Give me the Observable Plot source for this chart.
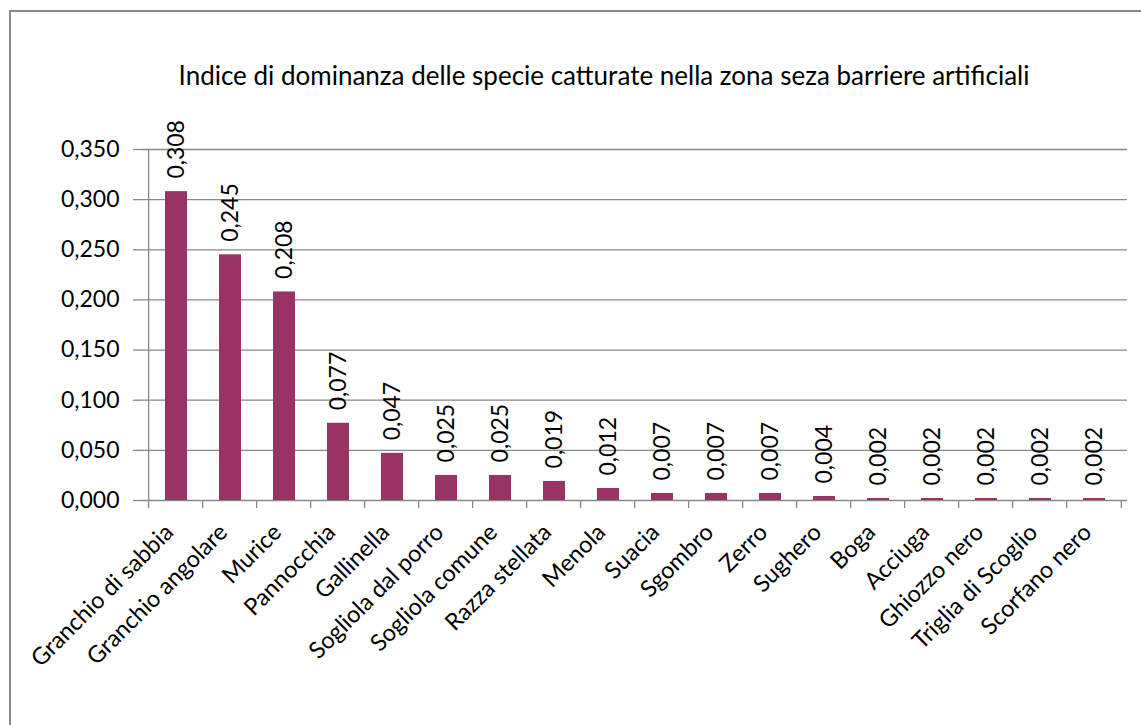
<!DOCTYPE html>
<html><head><meta charset="utf-8">
<script src="https://cdn.jsdelivr.net/npm/d3@7"></script>
<script src="https://cdn.jsdelivr.net/npm/@observablehq/plot@0.6"></script>
<style>
html,body{margin:0;padding:0;background:#fff;overflow:hidden;}
body{width:1141px;height:725px;position:relative;font-family:Lato, sans-serif;}
#frame{position:absolute;left:9px;top:10px;width:1300px;height:900px;border:2px solid #8a8a8a;box-sizing:border-box;}
#title{position:absolute;left:0;width:1208px;top:60px;text-align:center;font-size:26px;color:#000;line-height:30px;}
#chart{position:absolute;left:0;top:100px;}
</style></head><body>
<div id="frame"></div>
<div id="title">Indice di dominanza delle specie catturate nella zona seza barriere artificiali</div>
<div id="chart"></div>
<script>
const species = ["Granchio di sabbia","Granchio angolare","Murice","Pannocchia","Gallinella","Sogliola dal porro","Sogliola comune","Razza stellata","Menola","Suacia","Sgombro","Zerro","Sughero","Boga","Acciuga","Ghiozzo nero","Triglia di Scoglio","Scorfano nero"];
const values = [0.308,0.245,0.208,0.077,0.047,0.025,0.025,0.019,0.012,0.007,0.007,0.007,0.004,0.002,0.002,0.002,0.002,0.002];
const yTicks = [0,0.05,0.1,0.15,0.2,0.25,0.3,0.35];

const data = species.map((s,i)=>({species:s, value:values[i]}));
const fmt = v => d3.format(".3f")(v).replace(".", ",");
const gray = "#878787";
const barColor = "#993366";

const plot = Plot.plot({
  width:1141, height:625,
  marginLeft:142, marginRight:14, marginTop:49, marginBottom:225,
  style:{fontFamily:"Lato, sans-serif", fontSize:"23px", color:"#000", background:"transparent", overflow:"visible"},
  x:{domain:species, paddingInner:0.6, paddingOuter:0.3, label:null},
  y:{domain:[0,0.35], label:null},
  marks:[
    Plot.gridY(yTicks,{stroke:gray, strokeOpacity:1, strokeWidth:1.3}),
    Plot.axisY(yTicks,{tickFormat:fmt, tickSize:9, tickPadding:14, stroke:gray, strokeWidth:1.3, fill:"#000", fontSize:23, label:null}),
    Plot.barY(data,{x:"species", y:"value", fill:barColor}),
    Plot.text(data,{x:"species", y:"value", text:d=>fmt(d.value), rotate:-90, textAnchor:"start", dy:-13, fontSize:23, fill:"#000"}),
    Plot.axisX({tickSize:0, tickRotate:-45, tickPadding:28, dx:-7, fontSize:23.5, fill:"#000", label:null})
  ]
});

// axis line and category boundary ticks drawn from the plot's own scales
const xs = plot.scale("x"), ys = plot.scale("y");
const n = xs.domain.length;
const step = (xs.range[1]-xs.range[0])/n;
const bw = xs.bandwidth;
const y0 = ys.apply(0), yTop = ys.apply(0.35);
const svg = d3.select(plot);
const g = svg.append("g").attr("stroke", gray).attr("stroke-width", 1.3);
const xLeft = xs.apply(xs.domain[0]) - (step-bw)/2;
g.append("line").attr("x1", xLeft).attr("x2", xLeft).attr("y1", yTop).attr("y2", y0);
const bounds = xs.domain.map(d => xs.apply(d) - (step-bw)/2);
bounds.push(xs.apply(xs.domain[n-1]) + bw + (step-bw)/2);
bounds.forEach(b => g.append("line").attr("x1", b).attr("x2", b).attr("y1", y0).attr("y2", y0+8));

document.getElementById("chart").appendChild(plot);
</script>
</body></html>
